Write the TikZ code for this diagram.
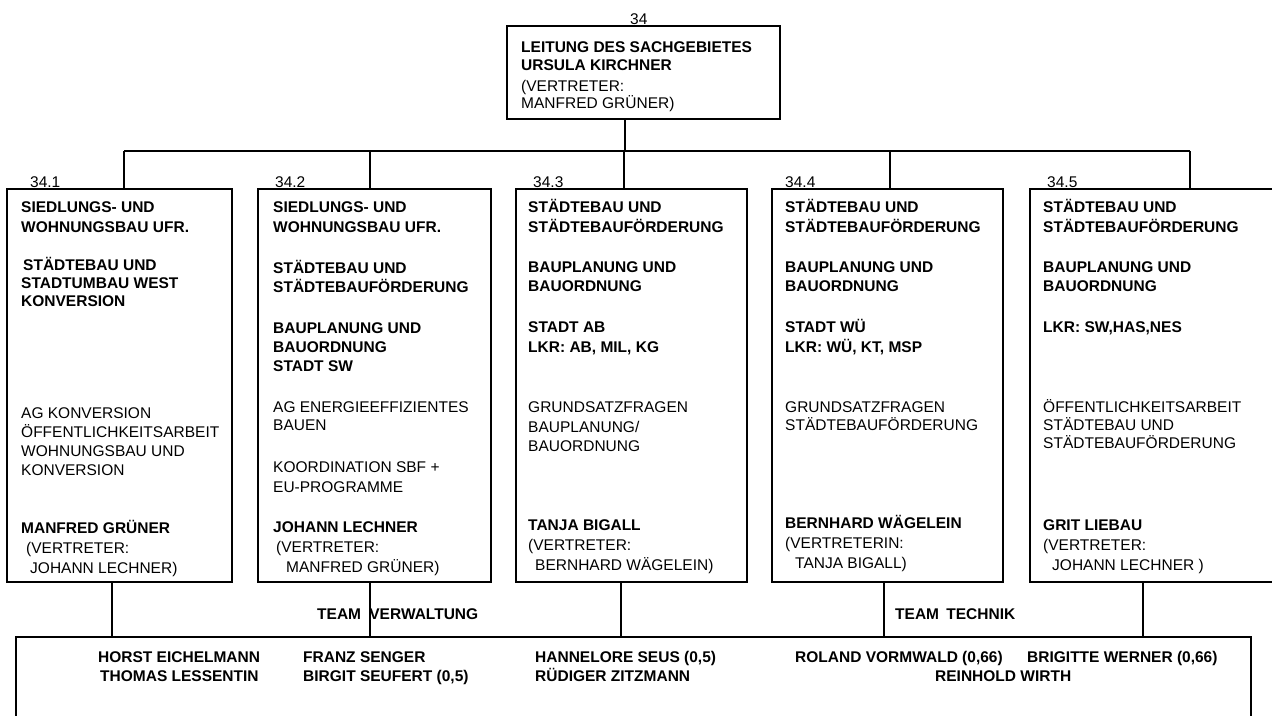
\documentclass[tikz,border=0pt]{standalone}
\usepackage{fontspec}
\setmainfont{Liberation Sans}
\newcommand{\fsz}{\fontsize{15.5pt}{19pt}\selectfont}
\begin{document}
\begin{tikzpicture}[x=1pt,y=-1pt,
  box/.style={draw=black,line width=1.4pt,inner sep=0pt,outer sep=0pt},
  tb/.style={anchor=base west,inner sep=0pt,font=\fsz\bfseries},
  tr/.style={anchor=base west,inner sep=0pt,font=\fsz},
  conn/.style={draw=black,line width=1.4pt}]
\useasboundingbox (0,0) rectangle (1272,715);
\fill[white] (0,0) rectangle (1272,715);
\clip (0,0) rectangle (1272,715);

% boxes
\node[box,minimum width=273pt,minimum height=93pt] (top) at (643.5,72.5) {};
\node[box,minimum width=225pt,minimum height=393pt] (b1) at (119.5,385.5) {};
\node[box,minimum width=233pt,minimum height=393pt] (b2) at (374.5,385.5) {};
\node[box,minimum width=231pt,minimum height=393pt] (b3) at (631.5,385.5) {};
\node[box,minimum width=231pt,minimum height=393pt] (b4) at (887.5,385.5) {};
\node[box,minimum width=245pt,minimum height=393pt] (b5) at (1152.5,385.5) {};
\node[box,minimum width=1235pt,minimum height=90pt] (team) at (633.5,682) {};

% bus coordinates
\coordinate (hub) at (625,151);
\coordinate (s1) at (124,151);
\coordinate (s2) at (370,151);
\coordinate (s3) at (624,151);
\coordinate (s4) at (890,151);
\coordinate (s5) at (1190,151);
\coordinate (u1) at (112,610);
\coordinate (u2) at (370,610);
\coordinate (u3) at (621,610);
\coordinate (u4) at (884,610);
\coordinate (u5) at (1143,610);

\draw[conn] (hub |- top.south) -- (hub);
\draw[conn] (s1) -- (s5);
\draw[conn] (s1) -- (s1 |- b1.north);
\draw[conn] (s2) -- (s2 |- b2.north);
\draw[conn] (s3) -- (s3 |- b3.north);
\draw[conn] (s4) -- (s4 |- b4.north);
\draw[conn] (s5) -- (s5 |- b5.north);
\draw[conn] (u1 |- b1.south) -- (u1 |- team.north);
\draw[conn] (u2 |- b2.south) -- (u2 |- team.north);
\draw[conn] (u3 |- b3.south) -- (u3 |- team.north);
\draw[conn] (u4 |- b4.south) -- (u4 |- team.north);
\draw[conn] (u5 |- b5.south) -- (u5 |- team.north);

% numbers
\node[tr] (n0) at (630,24) {34};
\node[tr] (n1) at (30,187.5) {34.1};
\node[tr] (n2) at (275,187.5) {34.2};
\node[tr] (n3) at (533,187.5) {34.3};
\node[tr] (n4) at (785,187.5) {34.4};
\node[tr] (n5) at (1047,187.5) {34.5};

% top box
\node[tb] (t1) at (521,52) {LEITUNG DES SACHGEBIETES};
\node[tb] (t2) at (521,70.5) {URSULA KIRCHNER};
\node[tr] (t3) at (521,91) {(VERTRETER:};
\node[tr] (t4) at (521,108.5) {MANFRED GRÜNER)};

% box 1
\node[tb] (a1) at (21,212.5) {SIEDLUNGS- UND};
\node[tb] (a2) at (21,232.5) {WOHNUNGSBAU UFR.};
\node[tb] (a3) at (23,270.5) {STÄDTEBAU UND};
\node[tb] (a4) at (21,288.5) {STADTUMBAU WEST};
\node[tb] (a5) at (21,306.5) {KONVERSION};
\node[tr] (a6) at (21,418.5) {AG KONVERSION};
\node[tr] (a7) at (21,437.5) {ÖFFENTLICHKEITSARBEIT};
\node[tr] (a8) at (21,456.5) {WOHNUNGSBAU UND};
\node[tr] (a9) at (21,475.5) {KONVERSION};
\node[tb] (a10) at (21,533.5) {MANFRED GRÜNER};
\node[tr] (a11) at (26,553.5) {(VERTRETER:};
\node[tr] (a12) at (30,573.5) {JOHANN LECHNER)};

% box 2
\node[tb] (c1) at (273,212.5) {SIEDLUNGS- UND};
\node[tb] (c2) at (273,232.5) {WOHNUNGSBAU UFR.};
\node[tb] (c3) at (273,273.5) {STÄDTEBAU UND};
\node[tb] (c4) at (273,292.5) {STÄDTEBAUFÖRDERUNG};
\node[tb] (c5) at (273,333.5) {BAUPLANUNG UND};
\node[tb] (c6) at (273,352.5) {BAUORDNUNG};
\node[tb] (c7) at (273,371.5) {STADT SW};
\node[tr] (c8) at (273,412.5) {AG ENERGIEEFFIZIENTES};
\node[tr] (c9) at (273,430.5) {BAUEN};
\node[tr] (c10) at (273,472.5) {KOORDINATION SBF +};
\node[tr] (c11) at (273,492.5) {EU-PROGRAMME};
\node[tb] (c12) at (273,532.5) {JOHANN LECHNER};
\node[tr] (c13) at (276,552.5) {(VERTRETER:};
\node[tr] (c14) at (286,572.5) {MANFRED GRÜNER)};

% box 3
\node[tb] (d1) at (528,212.5) {STÄDTEBAU UND};
\node[tb] (d2) at (528,232.5) {STÄDTEBAUFÖRDERUNG};
\node[tb] (d3) at (528,272.5) {BAUPLANUNG UND};
\node[tb] (d4) at (528,291.5) {BAUORDNUNG};
\node[tb] (d5) at (528,332.5) {STADT AB};
\node[tb] (d6) at (528,352.5) {LKR: AB, MIL, KG};
\node[tr] (d7) at (528,412.5) {GRUNDSATZFRAGEN};
\node[tr] (d8) at (528,432.5) {BAUPLANUNG/};
\node[tr] (d9) at (528,451.5) {BAUORDNUNG};
\node[tb] (d10) at (528,530.5) {TANJA BIGALL};
\node[tr] (d11) at (528,550.5) {(VERTRETER:};
\node[tr] (d12) at (535,570.5) {BERNHARD WÄGELEIN)};

% box 4
\node[tb] (e1) at (785,212.5) {STÄDTEBAU UND};
\node[tb] (e2) at (785,232.5) {STÄDTEBAUFÖRDERUNG};
\node[tb] (e3) at (785,272.5) {BAUPLANUNG UND};
\node[tb] (e4) at (785,291.5) {BAUORDNUNG};
\node[tb] (e5) at (785,332.5) {STADT WÜ};
\node[tb] (e6) at (785,352.5) {LKR: WÜ, KT, MSP};
\node[tr] (e7) at (785,412.5) {GRUNDSATZFRAGEN};
\node[tr] (e8) at (785,430.5) {STÄDTEBAUFÖRDERUNG};
\node[tb] (e9) at (785,528.5) {BERNHARD WÄGELEIN};
\node[tr] (e10) at (785,548.5) {(VERTRETERIN:};
\node[tr] (e11) at (795,568.5) {TANJA BIGALL)};

% box 5
\node[tb] (f1) at (1043,212.5) {STÄDTEBAU UND};
\node[tb] (f2) at (1043,232.5) {STÄDTEBAUFÖRDERUNG};
\node[tb] (f3) at (1043,272.5) {BAUPLANUNG UND};
\node[tb] (f4) at (1043,291.5) {BAUORDNUNG};
\node[tb] (f5) at (1043,332.5) {LKR: SW,HAS,NES};
\node[tr] (f6) at (1043,412.5) {ÖFFENTLICHKEITSARBEIT};
\node[tr] (f7) at (1043,430.5) {STÄDTEBAU UND};
\node[tr] (f8) at (1043,448.5) {STÄDTEBAUFÖRDERUNG};
\node[tb] (f9) at (1043,530.5) {GRIT LIEBAU};
\node[tr] (f10) at (1043,550.5) {(VERTRETER:};
\node[tr] (f11) at (1052,570.5) {JOHANN LECHNER )};

% teams
\node[tb] (tv) at (317,619.5) {TEAM\hspace{4pt} VERWALTUNG};
\node[tb] (tt) at (895,619.5) {TEAM\hspace{3pt} TECHNIK};

% names
\node[tb] (m1) at (98,662.5) {HORST EICHELMANN};
\node[tb] (m2) at (100,681) {THOMAS LESSENTIN};
\node[tb] (m3) at (303,662.5) {FRANZ SENGER};
\node[tb] (m4) at (303,681) {BIRGIT SEUFERT (0,5)};
\node[tb] (m5) at (535,662.5) {HANNELORE SEUS (0,5)};
\node[tb] (m6) at (535,681) {RÜDIGER ZITZMANN};
\node[tb] (m7) at (795,662.5) {ROLAND VORMWALD (0,66)};
\node[tb] (m8) at (1027,662.5) {BRIGITTE WERNER (0,66)};
\node[tb] (m9) at (935,681) {REINHOLD WIRTH};
\end{tikzpicture}
\end{document}
